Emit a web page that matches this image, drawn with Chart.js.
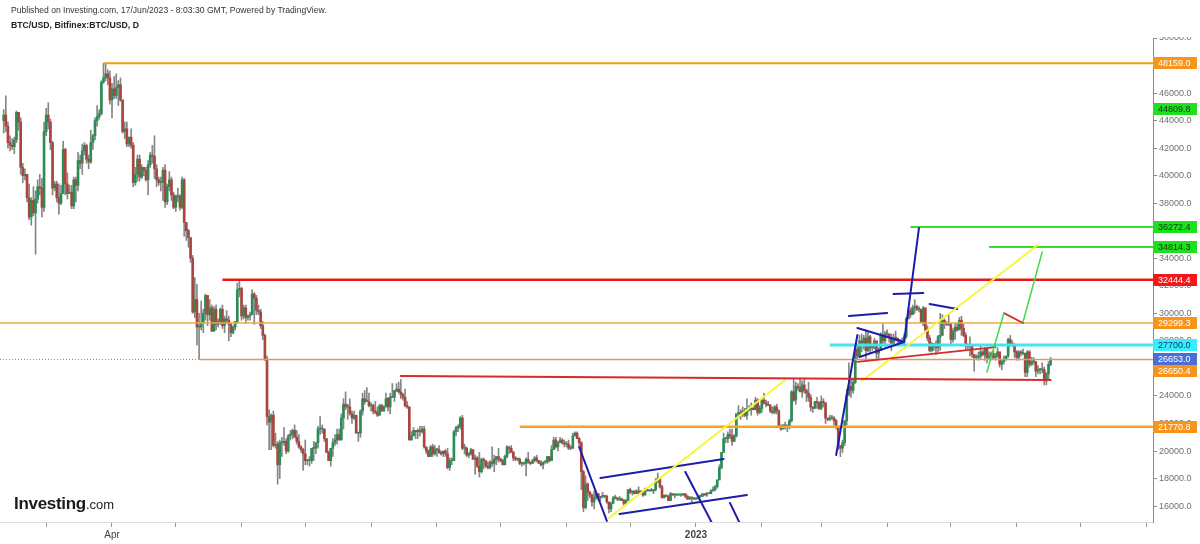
<!DOCTYPE html>
<html>
<head>
<meta charset="utf-8">
<script src="https://cdn.jsdelivr.net/npm/chart.js@4.4.0/dist/chart.umd.min.js"></script>
<style>
  html, body { margin: 0; padding: 0; background: #fff; }
  #wrap { position: relative; width: 1200px; height: 544px; overflow: hidden; }
  #chart { position: absolute; left: 0; top: 0; }
  .pub { position: absolute; left: 11px; top: 5px; font: 8.6px "Liberation Sans", Arial, sans-serif; color: #333; white-space: nowrap; }
  .sym { position: absolute; left: 11px; top: 20px; font: bold 8.7px "Liberation Sans", Arial, sans-serif; color: #222; white-space: nowrap; }
  .logo { position: absolute; left: 14px; top: 494px; font: bold 17px "Liberation Sans", Arial, sans-serif; color: #1b1b1b; letter-spacing: -0.3px; white-space: nowrap; }
  .logo span { font-size: 13px; font-weight: normal; letter-spacing: 0; }
</style>
</head>
<body>
<div id="wrap">
  <canvas id="chart" width="1200" height="544"></canvas>
  <div class="pub">Published on Investing.com, 17/Jun/2023 - 8:03:30 GMT, Powered by TradingView.</div>
  <div class="sym">BTC/USD, Bitfinex:BTC/USD, D</div>
  <div class="logo">Investing<span>.com</span></div>
</div>
<script>
// ========================================
// DATA - BTC/USD daily candles, 9 Feb 2022 .. 17 Jun 2023
// (open of each day = close of the day before)
// ========================================
const firstDay = "2022-02-09";
const firstOpen = 44000;

const closes = [
  44400,43600,42400,42200,42100,42600,44600,43900,40600,40000,40100,38400,37000,38200,37300,38300,39200,39100,37700,43200, // Feb 22
  44400,43900,42400,39100,39400,38400,38000,38700,41900,39400,38700,38800,37800,39700,39300,41100,40900,41800,42200,41200,41000,42400,42900,44000,44300,44500,46800,47100,47400,47100,45500, // Mar
  46300,45800,46400,46600,45500,43200,43400,42300,42800,42200,39500,40100,41200,39900,40600,40400,39700,40800,41500,41400,40500,39700,39500,39500,40400,38100,39200,39700,38600,37700, // Apr
  38500,38500,37700,39700,36600,36000,35500,34000,30100,31000,29000,29000,29300,30000,31300,29900,30400,28700,30300,29200,29400,30300,29100,29600,29500,29200,28600,29000,29400,31700,31800, // May
  29800,30400,29700,29800,29900,31400,31100,30200,30100,29100,28400,26600,22500,22100,22600,20400,20500,19000,20600,20600,20700,20000,21100,21200,21500,21000,20700,20300,20100,19800, // Jun
  19300,19300,19300,20200,20200,20600,21600,21600,21600,20900,19900,19300,20200,20600,20800,21200,20800,22400,23400,23200,23200,22700,22400,22600,21300,21300,22900,23800,23600,23600,23300, // Jul
  23300,22900,22800,22600,23300,22900,23200,23800,23200,23900,23900,24400,24500,24300,24100,23900,23300,23200,20800,21100,21500,21400,21500,21400,21600,20300,20000,19600,20300,19800,20100, // Aug
  20100,19900,19800,20000,19800,18800,19300,19300,21400,21700,21800,22400,20200,20200,19700,19800,20100,19400,19500,18900,18500,19400,19300,18900,18800,19200,19100,19400,19600,19400, // Sep
  19300,19000,19600,20300,20200,19900,19500,19400,19400,19100,19100,19100,19400,19200,19100,19300,19500,19300,19100,19000,19200,19200,19600,19300,20100,20800,20300,20600,20800,20600,20500, // Oct
  20500,20200,20200,21100,21300,20900,20600,18500,15900,17600,17000,16800,16300,16600,16900,16600,16700,16700,16700,16300,15800,16200,16600,16600,16500,16500,16400,16200,16400,17200, // Nov
  17000,17100,16900,17100,17000,17100,16800,17200,17100,17100,17100,17200,17800,18000,17400,16600,16800,16700,16400,16900,16800,16800,16800,16800,16800,16900,16700,16500,16600,16600,16500, // Dec
  16600,16700,16700,16900,16800,16900,16900,17100,17200,17400,17900,18800,19900,20900,20900,21200,21100,20700,21100,22700,22800,22700,22900,22600,23100,23000,23100,23000,23700,22800,23100, // Jan 23
  23700,23500,23400,23300,22900,22800,23200,22900,21800,21600,21900,21800,21800,22200,24300,23700,24700,24600,24300,24800,24400,24200,23900,23200,23100,23600,23500,23100, // Feb
  23600,23500,22400,22300,22400,22400,22200,21700,20400,20200,20600,22200,24100,24700,24400,25000,27400,26900,28000,27800,28200,27300,28300,27500,27500,28000,27100,27300,28400,28000,28500, // Mar
  28500,28200,27800,28200,28200,28000,27900,27900,28300,29600,30200,29900,30400,30500,30300,30300,29400,30400,28800,28200,27300,27800,27600,27500,28300,28400,29500,29300,29200,29200, // Apr
  28100,28700,29000,28800,29500,28900,28400,27700,27600,27600,27000,26800,26800,26900,27200,27000,27400,26800,26900,27100,26800,26900,27200,26300,26500,26700,26900,28100,27800,27700,27200, // May
  26800,27200,27100,27100,25700,27200,26300,26500,26500,25800,25900,25900,25900,25100,25600,26300,26653 // Jun
];

const highs = [
  44800,45800,43900,42900,42700,42800,44700,44600,44200,40900,40500,40100,39400,38400,39200,38900,39700,40100,39800,43900,
  44900,45300,44100,42500,39600,39600,39400,39300,42500,42000,40200,39300,39300,39900,39900,41700,41500,42300,42400,42300,41500,43300,43000,44200,45100,44800,46900,48160,48100,47700,47600,
  46700,47200,47400,46900,47100,45500,43900,43900,42800,43400,42400,40600,41500,41500,40800,40600,40600,41100,41700,42200,42900,40800,39900,39900,40600,40800,39400,40300,39900,38800,
  38600,39100,38600,39900,39800,36600,36100,35500,34200,32600,32100,30000,30900,30300,31400,31300,31000,30600,30500,30600,29600,30400,30600,29800,30200,29800,29300,29100,29400,32200,32400,
  31900,30600,30600,29900,30100,31700,31500,31300,30600,30300,29400,28500,26900,23000,22700,22900,21300,20700,20800,21000,21700,20900,21200,21500,21600,21900,21500,21200,20400,20200,
  20800,19400,19600,20200,20700,20600,21800,22500,21900,21600,20900,20000,20200,20900,21200,21600,21600,22700,23800,24300,23400,23800,22900,22900,22600,21300,23000,24200,24400,24600,24200,
  23500,23400,23600,23200,23400,23400,23300,24200,23900,24200,24900,24400,24900,25000,25200,24200,24500,23600,23200,21400,21700,21500,21600,21800,21800,21800,20300,20100,20400,20500,20400,
  20200,20400,20000,20000,20100,20200,19500,19500,21500,21800,21900,22500,22600,20500,20300,19900,20200,20100,19700,19600,19900,19500,19500,19300,19200,19300,20300,19700,19600,20200,
  19500,19400,19700,20400,20300,20400,20000,19600,19500,19500,19200,19200,19500,19900,19200,19400,19600,19700,19300,19300,19200,19300,19600,19600,20400,21000,21000,20700,21000,20900,20800,
  20700,20800,20400,21300,21400,21400,21000,20700,18600,18200,17700,17100,16900,17100,17000,16900,16700,17000,16800,16800,16300,16300,16700,16800,16600,16700,16600,16500,16500,17200,
  17300,17100,17100,17200,17400,17100,17100,17300,17300,17200,17300,17200,18000,18400,18000,17500,16800,16800,16800,17000,16900,16900,16900,16900,16900,16900,16900,16800,16700,16600,16600,
  16600,16800,16800,16900,16900,17000,16900,17200,17400,17500,17900,19000,19900,21300,21000,21400,21600,21600,21200,22700,23300,23000,23200,23100,23800,23300,23500,23200,23900,23800,23300,
  23800,24200,23700,23600,23400,23200,23300,23400,23000,21900,21900,22100,21900,22300,24400,25200,25000,24900,25200,25100,25300,24500,25000,24100,23200,23600,23900,23600,
  24000,23800,23500,22400,22600,22600,22500,22300,21800,20400,20800,22200,24500,26400,25200,25200,27700,27700,28400,28500,28400,28800,28700,28400,27800,28200,28000,27500,28600,29200,28700,
  28800,28500,28500,28500,28700,28200,28100,28200,28500,29700,30400,30400,30600,31000,30600,30500,30300,30500,30400,29100,28400,27900,27800,28000,28400,30000,29900,29600,29400,29900,
  29300,28900,29300,29300,29700,29800,29200,28600,27800,28300,27600,27000,27000,27200,27600,27300,27500,27500,27200,27200,27300,27100,27500,27200,26600,26900,26900,28200,28400,28000,27800,
  27300,27300,27300,27400,27100,27300,27300,26800,26800,26500,26200,26000,26400,26100,25700,26500,26800
];

const lows = [
  43100,43200,42000,41800,41900,41600,42400,43300,40100,39500,39700,38100,36800,36400,37100,34300,38000,38600,37000,37400,
  42900,43400,41900,38600,38900,38100,37200,37900,38700,38600,38300,38700,37600,37600,38100,38900,40500,40100,41500,40900,40500,40900,41900,42600,43600,44100,44400,46700,46900,46600,45200,
  44200,45600,45600,45100,45400,43100,42700,42100,42100,42000,39200,39300,39600,39600,39800,40000,39600,38600,40600,40900,39800,39200,39300,38900,38200,37700,37900,38900,38200,37600,
  37400,38100,37500,37600,35600,35300,34800,33700,30000,29700,27700,26700,28800,28600,29500,29100,29500,28700,28700,28800,29000,29200,28900,28600,29300,28000,28300,28500,28800,29300,31200,
  29500,29600,29300,29500,29500,29900,29200,29900,29900,28900,28100,26600,21900,20100,20100,20300,20200,17600,18000,19600,20400,19800,19900,20800,20900,21000,20500,20200,19900,18600,
  19000,19000,18900,19100,19300,19800,20200,21200,21300,20700,19900,19300,18900,19600,20400,20500,20800,20800,21600,23000,22300,22600,22000,22300,21300,20700,21000,22600,23400,23600,23200,
  22900,22700,22700,22500,22600,22900,22900,23200,22900,22700,23900,23600,24300,24200,23800,23700,23200,23100,20800,20800,21100,20900,20900,21100,21300,20200,19800,19600,19600,19600,19700,
  19600,19800,19700,19600,19600,18700,18600,19000,19300,21100,21400,21600,20100,19800,19600,19500,19700,19400,18300,18800,18100,18400,18700,18800,18700,18700,18900,18500,19000,19200,
  19200,19000,19000,19500,19800,19900,19300,19300,19300,19000,18900,19000,18200,19100,19000,19100,19200,19200,19100,18900,18700,19100,19100,19200,19300,20100,20200,20000,20600,20500,20300,
  20300,20100,20100,20200,21100,20900,20400,17200,15600,15800,16400,16600,16000,15800,16500,16400,16400,16600,16600,16200,15500,15600,16200,16500,16400,16400,16400,16000,16100,16400,
  16900,16800,16900,16900,16900,16900,16700,16800,17100,17100,17100,16900,17100,17700,17300,16600,16600,16700,16400,16400,16800,16600,16800,16800,16700,16800,16600,16500,16500,16300,16500,
  16500,16500,16600,16700,16800,16700,16900,16900,17100,17100,17300,17900,18700,19900,20600,20600,20900,20400,20700,21000,22400,22300,22500,22500,22300,22900,22600,23000,23000,22600,22700,
  22800,23400,23200,23300,22800,22700,22700,22700,21700,21500,21600,21600,21400,21600,22100,23600,23400,24400,24300,23900,24200,23600,23600,22900,22800,23100,23100,23000,
  23000,23200,22000,22200,22200,22300,21900,21600,20100,19600,19900,20400,21900,24000,23900,24200,24900,26700,26900,27200,27400,26700,27200,27100,27300,27400,26600,26700,27300,27700,27600,
  28300,27900,27300,27700,28000,27800,27800,27900,27800,28200,29600,29700,29900,30000,30200,30100,29300,29100,28700,28000,27200,27200,27300,27000,27200,27300,28400,28900,29100,29100,
  27700,27900,28100,28700,28800,28400,28300,27300,27400,26900,26800,25800,26700,26600,26700,26900,26600,26400,26700,26900,26700,26600,26800,26100,25900,26300,26600,26800,27600,27600,26800,
  26600,26600,26900,27000,25400,25400,26100,26200,26300,25400,25600,25600,25700,24800,24800,25200,26200
];

// axis ticks
const xTickDates = ["2022-03-01","2022-04-01","2022-05-01","2022-06-01","2022-07-01","2022-08-01","2022-09-01","2022-10-01","2022-11-01","2022-12-01","2023-01-01","2023-02-01","2023-03-01","2023-04-01","2023-05-01","2023-06-01","2023-07-01","2023-08-01"];
const xTickLabels = ["","Apr","","","","","","","","","2023","","","","","","",""];
const yTicks = [16000,18000,20000,22000,24000,26000,28000,30000,32000,34000,36000,38000,40000,42000,44000,46000,48000,50000];

// horizontal levels drawn on the chart
const levelPrices = [48159.0, 32444.4, 29299.3, 26650.4, 21770.8, 27700.0, 36272.4, 34814.3];
const levelStarts = ["2022-03-28", "2022-05-23", null, "2022-05-12", "2022-10-10", "2023-03-05", "2023-04-12", "2023-05-19"];

// trend lines: [from date, from price, to date, to price]
const blueLines = [
  ["2022-11-07", 20290, "2022-11-20", 14920],
  ["2022-11-17", 18040, "2023-01-14", 19420],
  ["2022-11-26", 15430, "2023-01-25", 16810],
  ["2022-12-27", 18480, "2023-01-09", 14630],
  ["2023-01-17", 16230, "2023-01-22", 14630],
  ["2023-03-08", 19710, "2023-03-18", 28430],
  ["2023-03-14", 29810, "2023-04-01", 30020],
  ["2023-03-18", 28930, "2023-04-09", 27920],
  ["2023-03-19", 26830, "2023-04-09", 27920],
  ["2023-04-09", 27920, "2023-04-16", 36200],
  ["2023-04-04", 31400, "2023-04-18", 31480],
  ["2023-04-21", 30680, "2023-05-04", 30310]
];
const yellowLines = [
  ["2022-11-21", 15140, "2023-02-12", 25160],
  ["2023-03-20", 25090, "2023-06-11", 34960]
];
const redLines = [
  ["2022-08-15", 25450, "2023-06-17", 25160],
  ["2023-03-18", 26470, "2023-05-22", 27550],
  ["2023-05-26", 30020, "2023-06-04", 29300]
];
const greenLines = [
  ["2023-05-18", 25740, "2023-05-26", 30020],
  ["2023-06-04", 29370, "2023-06-13", 34450]
];

// price tags on the right axis
const tagPrices = [48159.0, 44809.8, 36272.4, 34814.3, 32444.4, 29299.3, 27700.0, 26653.0, 26650.4, 21770.8];

// ========================================
// STYLES
// ========================================
const UP = "#2c8c57";
const DOWN = "#ab443d";
const WICK = "#858585";
const FONT = "'Liberation Sans', Arial, sans-serif";

const levelStyles = [
  { color: "#f39c12", width: 2 },
  { color: "#e31b1b", width: 2.5 },
  { color: "#f2a845", width: 1.5 },
  { color: "#da9a6a", width: 1.5 },
  { color: "#f5a322", width: 2.5 },
  { color: "#45e2f2", width: 3 },
  { color: "#38dc38", width: 2 },
  { color: "#38dc38", width: 2 }
];
const lineGroups = [
  { lines: blueLines, color: "#1d1dab", width: 2 },
  { lines: yellowLines, color: "#f7f53c", width: 2 },
  { lines: redLines, color: "#d82a2a", width: 1.8 },
  { lines: greenLines, color: "#42d942", width: 1.5 }
];
const ORANGE_TAG = { bg: "#f7941d", fg: "#ffffff" };
const GREEN_TAG = { bg: "#1fe01f", fg: "#0d3d0d" };
const tagStyles = [
  ORANGE_TAG, GREEN_TAG, GREEN_TAG, GREEN_TAG,
  { bg: "#f01818", fg: "#ffffff" },
  ORANGE_TAG,
  { bg: "#35eefc", fg: "#1b3478" },
  { bg: "#4a6ed8", fg: "#ffffff" },
  ORANGE_TAG, ORANGE_TAG
];

// ========================================
// PREPARE CANDLES
// ========================================
const t0 = Date.parse(firstDay + "T00:00:00Z");
const dayIndex = (d) => (Date.parse(d + "T00:00:00Z") - t0) / 86400000;

const opens = closes.map((c, i) => (i === 0 ? firstOpen : closes[i - 1]));
const bodyData = closes.map((c, i) => ({ x: i, y: [opens[i], c] }));
const wickData = closes.map((c, i) => ({
  x: i,
  y: [Math.min(lows[i], opens[i], c), Math.max(highs[i], opens[i], c)]
}));
const bodyColors = closes.map((c, i) => (c >= opens[i] ? UP : DOWN));
const lastPrice = closes[closes.length - 1];
const xTickPos = xTickDates.map(dayIndex);

// ========================================
// DRAWINGS PLUGIN (levels, trend lines, tags)
// ========================================
const drawings = {
  id: "drawings",
  beforeDatasetsDraw(chart) {
    const { ctx, chartArea: a, scales: { y } } = chart;
    const py = Math.round(y.getPixelForValue(lastPrice)) + 0.5;
    ctx.save();
    ctx.strokeStyle = "#6d8be0";
    ctx.lineWidth = 1;
    ctx.setLineDash([1, 2]);
    ctx.beginPath();
    ctx.moveTo(a.left, py);
    ctx.lineTo(a.right, py);
    ctx.stroke();
    ctx.restore();
  },
  afterDatasetsDraw(chart) {
    const { ctx, chartArea: a, scales: { x, y } } = chart;
    ctx.save();
    ctx.beginPath();
    ctx.rect(a.left, a.top, a.right - a.left, a.bottom - a.top);
    ctx.clip();

    levelPrices.forEach((p, i) => {
      const st = levelStyles[i];
      const x0 = levelStarts[i] ? x.getPixelForValue(dayIndex(levelStarts[i])) : a.left;
      const py = y.getPixelForValue(p);
      ctx.strokeStyle = st.color;
      ctx.lineWidth = st.width;
      ctx.beginPath();
      ctx.moveTo(x0, py);
      ctx.lineTo(a.right, py);
      ctx.stroke();
    });

    lineGroups.forEach((g) => {
      ctx.strokeStyle = g.color;
      ctx.lineWidth = g.width;
      ctx.lineCap = "round";
      g.lines.forEach(([d1, p1, d2, p2]) => {
        ctx.beginPath();
        ctx.moveTo(x.getPixelForValue(dayIndex(d1)), y.getPixelForValue(p1));
        ctx.lineTo(x.getPixelForValue(dayIndex(d2)), y.getPixelForValue(p2));
        ctx.stroke();
      });
    });
    ctx.restore();
  },
  afterDraw(chart) {
    const { ctx, chartArea: a, scales: { y } } = chart;
    ctx.save();
    // top label is cut by the pane edge
    ctx.fillStyle = "#fff";
    ctx.fillRect(a.right + 2, 0, 60, a.top - 1);

    const h = 12;
    const order = tagPrices.map((p, i) => i).sort((i, j) => tagPrices[j] - tagPrices[i]);
    let prevY = -100;
    ctx.font = "9px " + FONT;
    ctx.textBaseline = "middle";
    ctx.textAlign = "left";
    order.forEach((i) => {
      let cy = y.getPixelForValue(tagPrices[i]);
      if (cy < prevY + h) cy = prevY + h;
      prevY = cy;
      const st = tagStyles[i];
      ctx.fillStyle = st.bg;
      ctx.fillRect(a.right, Math.round(cy - h / 2), 44, h);
      ctx.fillStyle = st.fg;
      ctx.fillText(tagPrices[i].toFixed(1), a.right + 5, Math.round(cy) + 0.5);
    });
    ctx.restore();
  }
};

// ========================================
// CHART
// ========================================
new Chart(document.getElementById("chart"), {
  type: "bar",
  data: {
    datasets: [
      {
        data: bodyData,
        backgroundColor: bodyColors,
        borderWidth: 0,
        barThickness: 2,
        minBarLength: 1,
        grouped: false
      },
      {
        data: wickData,
        backgroundColor: WICK,
        borderWidth: 0,
        barThickness: 1,
        grouped: false
      }
    ]
  },
  options: {
    responsive: false,
    animation: false,
    devicePixelRatio: 1,
    layout: { padding: { top: 38, left: 0, right: 0, bottom: 0 } },
    plugins: { legend: { display: false }, tooltip: { enabled: false } },
    scales: {
      x: {
        type: "linear",
        min: -1.74,
        max: 541.2,
        offset: false,
        grid: { offset: false, drawOnChartArea: false, tickLength: 5, color: "#9a9a9a" },
        border: { color: "#dcdcdc" },
        afterBuildTicks: (s) => { s.ticks = xTickPos.map((v) => ({ value: v })); },
        afterFit: (s) => { s.height = 22; },
        ticks: {
          autoSkip: false,
          maxRotation: 0,
          padding: 2,
          color: "#444",
          font: (c) => ({ family: FONT, size: 10, weight: c.tick && c.tick.value === xTickPos[10] ? "bold" : "normal" }),
          callback: (v, i) => xTickLabels[i]
        }
      },
      y: {
        position: "right",
        min: 14845,
        max: 50000,
        grid: { drawOnChartArea: false, tickLength: 4, color: "#8a8a8a" },
        border: { color: "#8a8a8a" },
        afterBuildTicks: (s) => { s.ticks = yTicks.map((v) => ({ value: v })); },
        afterFit: (s) => { s.width = 47; },
        ticks: {
          padding: 2,
          color: "#6f6f6f",
          font: { family: FONT, size: 9 },
          callback: (v) => v.toFixed(1)
        }
      }
    }
  },
  plugins: [drawings]
});
</script>
</body>
</html>
